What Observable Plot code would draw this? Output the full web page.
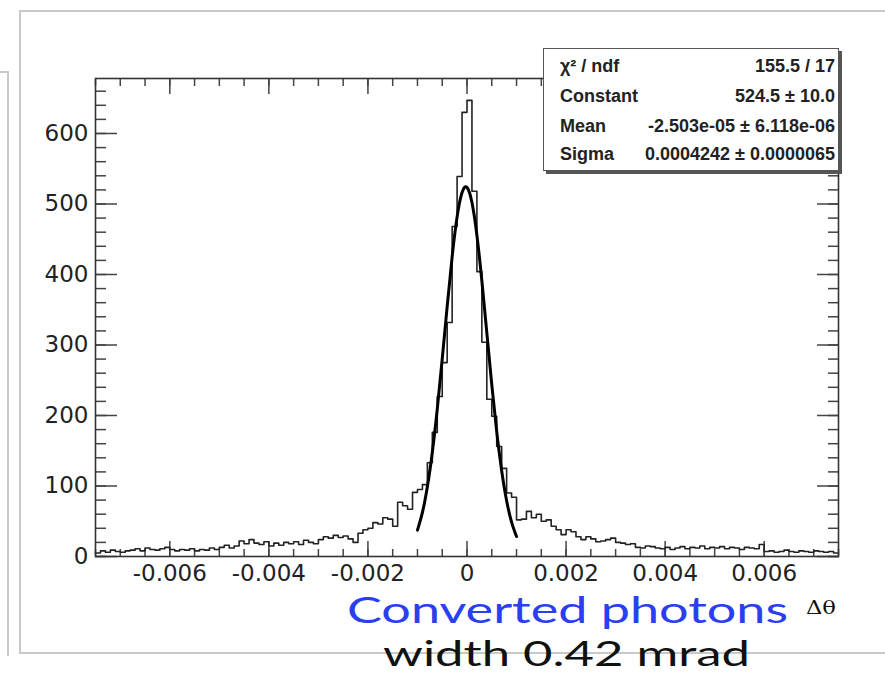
<!DOCTYPE html>
<html><head><meta charset="utf-8">
<script src="https://cdn.jsdelivr.net/npm/d3@7"></script>
<script src="https://cdn.jsdelivr.net/npm/@observablehq/plot@0.6"></script>
<style>
html,body{margin:0;padding:0;background:#fff;}
#page{position:relative;width:885px;height:674px;overflow:hidden;background:#fff;}
#chart{position:absolute;left:0;top:0;}
.deco{position:absolute;border-color:#c9c9c9;border-style:solid;border-width:0;}
#stats{position:absolute;left:543px;top:48px;width:294px;height:121px;border:1.5px solid #555;background:#fff;box-shadow:3px 3px 0 #555;font-family:"Liberation Sans",Arial,sans-serif;font-weight:bold;font-size:18px;color:#222;}
.row{position:absolute;left:16px;right:3px;height:20px;line-height:20px;display:flex;justify-content:space-between;white-space:nowrap;}
.cap{position:absolute;white-space:nowrap;display:inline-block;transform-origin:0 0;line-height:0.84;}
</style></head><body>
<div id="page">
  <div class="deco" style="left:19px;top:10px;width:880px;height:640px;border-width:2px 0 2px 2px;"></div>
  <div class="deco" style="left:0px;top:71px;width:7px;height:583px;border-width:2px 2px 0 0;"></div>
  <div id="chart"></div>
  <div id="stats"></div>
  <span class="cap" id="c1" style="left:347px;top:594px;font-family:Lato,sans-serif;font-size:36px;color:#2a40f0;">Converted photons</span>
  <span class="cap" id="c2" style="left:806px;top:600px;font-family:'DejaVu Serif',serif;font-size:18px;color:#111;">Δθ</span>
  <span class="cap" id="c3" style="left:383px;top:639px;font-family:Lato,sans-serif;font-size:34px;color:#111;">width 0.42 mrad</span>
</div>
<script>
// ---- data ----
const xMin = -0.0075, xMax = 0.0075, binWidth = 0.0001;
const counts = [
  5,8,6,9,7,6,8,
  9,11,8,12,10,9,11,13,10,
  8,10,9,11,8,10,9,12,10,
  13,16,12,15,
  22,18,24,19,17,21,
  15,19,16,20,18,
  21,17,23,20,18,
  24,28,26,30,27,29,25,
  20,
  33,38,40,
  48,46,
  55,53,
  43,
  77,72,67,91,
  95,102,133,176,227,275,332,468,539,630,647,518,404,304,223,199,156,125,90,84,
  52,53,64,55,60,50,52,43,38,31,38,35,28,24,28,25,21,22,24,26,20,19,17,18,13,12,15,14,
  12,11,13,10,12,14,11,
  13,12,15,11,13,12,14,
  11,13,12,10,13,12,11,
  17,
  7,8,6,7,9,7,6,8,7,6,8,7,6,7,5
];
const fitX = [-0.001,-0.0009,-0.0008,-0.0007,-0.0006,-0.0005,-0.0004,-0.0003,-0.0002,-0.0001,0,
              0.0001,0.0002,0.0003,0.0004,0.0005,0.0006,0.0007,0.0008,0.0009,0.001];
const fitY = [37.4,62.5,98.9,147.9,209.3,280.2,354.9,425.1,481.7,516.4,523.6,
              502.2,455.7,391.1,317.5,243.8,177.1,121.7,79.1,48.7,28.3];
const xMajorTicks = [-0.006,-0.004,-0.002,0,0.002,0.004,0.006];
const xTickLabels = ["-0.006","-0.004","-0.002","0","0.002","0.004","0.006"];
const yMajorTicks = [0,100,200,300,400,500,600];
const yTickLabels = ["0","100","200","300","400","500","600"];
const statsLabels = ["χ² / ndf","Constant","Mean","Sigma"];
const statsValues = ["155.5 / 17","524.5 ± 10.0","-2.503e-05 ± 6.118e-06","0.0004242 ± 0.0000065"];
const yTop = 678;

// ---- build ----
const hist = counts.map((c, i) => ({x: xMin + i * binWidth, y: c}));
hist.push({x: xMax, y: counts[counts.length - 1]});
const fit = fitX.map((x, i) => ({x, y: fitY[i]}));
const xMinor = d3.range(0, 31).map(i => +(xMin + i * 0.0005).toFixed(5));
const yMinor = d3.range(0, 34).map(i => i * 20);
const fmtX = new Map(xMajorTicks.map((t, i) => [t, xTickLabels[i]]));
const fmtY = new Map(yMajorTicks.map((t, i) => [t, yTickLabels[i]]));
const tickStyle = {stroke: "#444", strokeWidth: 1.5, text: null, label: null};

const chart = Plot.plot({
  width: 885, height: 600,
  marginLeft: 95, marginRight: 47, marginTop: 78, marginBottom: 44,
  x: {domain: [xMin, xMax], label: null},
  y: {domain: [0, yTop], label: null},
  style: {fontFamily: "DejaVu Sans, sans-serif", background: "transparent", overflow: "visible"},
  marks: [
    Plot.axisX({anchor: "bottom", ticks: xMinor, tickSize: -7, ...tickStyle}),
    Plot.axisX({anchor: "top", ticks: xMinor, tickSize: -7, ...tickStyle}),
    Plot.axisX({anchor: "bottom", ticks: xMajorTicks, tickSize: -15, ...tickStyle}),
    Plot.axisX({anchor: "top", ticks: xMajorTicks, tickSize: -15, ...tickStyle}),
    Plot.axisY({anchor: "left", ticks: yMinor, tickSize: -11, ...tickStyle}),
    Plot.axisY({anchor: "right", ticks: yMinor, tickSize: -11, ...tickStyle}),
    Plot.axisY({anchor: "left", ticks: yMajorTicks, tickSize: -22, ...tickStyle}),
    Plot.axisY({anchor: "right", ticks: yMajorTicks, tickSize: -22, ...tickStyle}),
    Plot.axisX({anchor: "bottom", ticks: xMajorTicks, tickSize: 0, tickPadding: 8,
      tickFormat: d => fmtX.get(d), fontSize: 23, fill: "#222", label: null}),
    Plot.axisY({anchor: "left", ticks: yMajorTicks, tickSize: 0, tickPadding: 7,
      tickFormat: d => fmtY.get(d), fontSize: 23, fill: "#222", label: null}),
    Plot.line(hist, {x: "x", y: "y", curve: "step-after", stroke: "#222", strokeWidth: 1.6}),
    Plot.line(fit, {x: "x", y: "y", curve: "natural", stroke: "#000", strokeWidth: 3}),
    Plot.frame({stroke: "#333", strokeWidth: 1.6})
  ]
});
document.getElementById("chart").appendChild(chart);

// stats box
const stats = document.getElementById("stats");
const rowCenters = [17, 47, 77, 105];
statsLabels.forEach((lab, i) => {
  const r = document.createElement("div");
  r.className = "row";
  r.style.top = (rowCenters[i] - 10) + "px";
  const a = document.createElement("span"); a.textContent = lab;
  const b = document.createElement("span"); b.textContent = statsValues[i];
  r.appendChild(a); r.appendChild(b);
  stats.appendChild(r);
});

// fit caption widths
function fitWidth(id, w) {
  const el = document.getElementById(id);
  const cur = el.getBoundingClientRect().width;
  if (cur > 0) el.style.transform = `scaleX(${w / cur})`;
}
fitWidth("c1", 441);
fitWidth("c2", 30);
fitWidth("c3", 367);
</script>
</body></html>
